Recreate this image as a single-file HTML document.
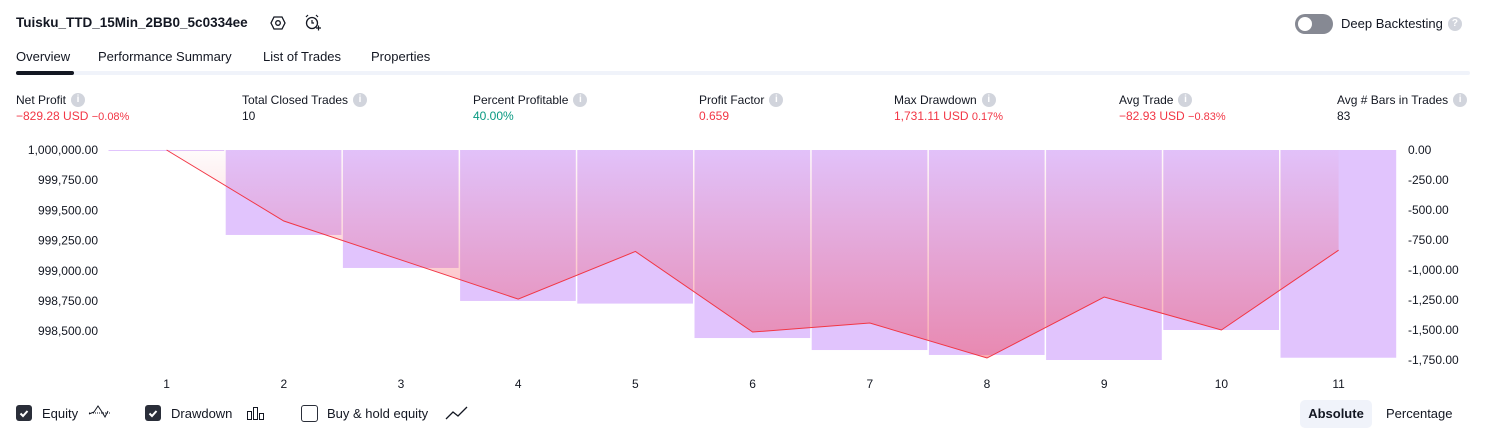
<!DOCTYPE html>
<html><head><meta charset="utf-8"><style>
body{margin:0;width:1486px;height:438px;background:#fff;font-family:"Liberation Sans",sans-serif;color:#131722;position:relative;overflow:hidden}
.a{position:absolute;white-space:nowrap}
.t{font-size:13px}
.info{display:inline-block;width:14px;height:14px;border-radius:50%;background:#d1d4dc;color:#fff;font-size:10px;text-align:center;line-height:14px;font-weight:bold;vertical-align:middle;margin-left:5px;margin-top:-2px}
.red{color:#f23645}.grn{color:#089981}
.cb{position:absolute;width:16px;height:16px;border-radius:3px;top:405px}
</style></head><body>
<div class="a" style="left:16px;top:15px;font-size:13.5px;font-weight:bold">Tuisku_TTD_15Min_2BB0_5c0334ee</div>
<svg class="a" style="left:270px;top:15px" width="16" height="16" viewBox="0 0 16 16"><polygon points="4,2 12,2 15,8 12,14 4,14 1,8" fill="none" stroke="#131722" stroke-width="1.3"/><circle cx="8" cy="8" r="2.3" fill="none" stroke="#131722" stroke-width="1.3"/></svg>
<svg class="a" style="left:304px;top:14px" width="18" height="18" viewBox="0 0 18 18"><circle cx="8" cy="9" r="5.5" fill="none" stroke="#131722" stroke-width="1.3"/><path d="M8 6v3h2M2 3l2-2M14 3l-2-2M12 14h5M14.5 11.5v5" fill="none" stroke="#131722" stroke-width="1.2"/></svg>
<div class="a" style="left:1295px;top:14px;width:38px;height:20px;border-radius:10px;background:#868993"><div style="position:absolute;left:3px;top:3px;width:14px;height:14px;border-radius:50%;background:#fff"></div></div>
<div class="a t" style="left:1341px;top:16px">Deep Backtesting<span class="info">?</span></div>
<div class="a t" style="left:16px;top:49px">Overview</div>
<div class="a t" style="left:98px;top:49px">Performance Summary</div>
<div class="a t" style="left:263px;top:49px">List of Trades</div>
<div class="a t" style="left:371px;top:49px">Properties</div>
<div class="a" style="left:16px;top:71px;width:1454px;height:4px;background:#f0f3fa;border-radius:2px"></div>
<div class="a" style="left:16px;top:71px;width:58px;height:4px;background:#131722;border-radius:2px"></div>

<div class="a" style="left:16px;top:93px;font-size:12px">Net Profit<span class="info">i</span><div class="red" style="margin-top:2px">−829.28 USD <span style="font-size:11px">−0.08%</span></div></div>
<div class="a" style="left:242px;top:93px;font-size:12px">Total Closed Trades<span class="info">i</span><div style="margin-top:2px">10</div></div>
<div class="a" style="left:473px;top:93px;font-size:12px">Percent Profitable<span class="info">i</span><div class="grn" style="margin-top:2px">40.00%</div></div>
<div class="a" style="left:699px;top:93px;font-size:12px">Profit Factor<span class="info">i</span><div class="red" style="margin-top:2px">0.659</div></div>
<div class="a" style="left:894px;top:93px;font-size:12px">Max Drawdown<span class="info">i</span><div class="red" style="margin-top:2px">1,731.11 USD <span style="font-size:11px">0.17%</span></div></div>
<div class="a" style="left:1119px;top:93px;font-size:12px">Avg Trade<span class="info">i</span><div class="red" style="margin-top:2px">−82.93 USD <span style="font-size:11px">−0.83%</span></div></div>
<div class="a" style="left:1337px;top:93px;font-size:12px">Avg # Bars in Trades<span class="info">i</span><div style="margin-top:2px">83</div></div>

<svg id="chart" class="a" style="left:0;top:0" width="1486" height="395"></svg>

<div class="cb" style="left:16px;background:#2a2e39"><svg width="16" height="16"><path d="M4.5 8.5l2.5 2.5 4.5-5" stroke="#fff" stroke-width="2" fill="none"/></svg></div>
<div class="a t" style="left:42px;top:406px">Equity</div>
<svg class="a" style="left:88px;top:404px" width="24" height="16"><path d="M1 10l5-2 4-6 4 6 3 5 3-6" fill="none" stroke="#131722" stroke-width="1"/><path d="M1 9h22" stroke="#131722" stroke-dasharray="1 1"/></svg>
<div class="cb" style="left:145px;background:#2a2e39"><svg width="16" height="16"><path d="M4.5 8.5l2.5 2.5 4.5-5" stroke="#fff" stroke-width="2" fill="none"/></svg></div>
<div class="a t" style="left:171px;top:406px">Drawdown</div>
<svg class="a" style="left:246px;top:405px" width="20" height="16"><rect x="1.5" y="6.5" width="4" height="8" fill="none" stroke="#131722"/><rect x="7.5" y="2.5" width="4" height="12" fill="none" stroke="#131722"/><rect x="13.5" y="8.5" width="4" height="6" fill="none" stroke="#131722"/></svg>
<div class="cb" style="left:301px;border:1px solid #2a2e39;width:15px;height:15px"></div>
<div class="a t" style="left:327px;top:406px">Buy &amp; hold equity</div>
<svg class="a" style="left:445px;top:405px" width="24" height="16"><path d="M1 14l7-7 5 4 9-9" fill="none" stroke="#131722" stroke-width="1.3"/></svg>
<div class="a t" style="left:1300px;top:400px;width:72px;height:28px;line-height:28px;text-align:center;background:#f0f3fa;border-radius:5px;font-weight:bold">Absolute</div>
<div class="a t" style="left:1386px;top:406px">Percentage</div>

<script>
const categories=['1','2','3','4','5','6','7','8','9','10','11'];
const equity=[1000000,999412,999090,998766,999160,998493,998568,998278,998783,998510,999170.72];
const drawdown=[0,-708,-983,-1258,-1280,-1567,-1667,-1708,-1750,-1500,-1731.11];
const leftTicks=[1000000,999750,999500,999250,999000,998750,998500];
const rightTicks=[0,-250,-500,-750,-1000,-1250,-1500,-1750];
const NS='http://www.w3.org/2000/svg';
const svg=document.getElementById('chart');
const x0=108,step=117.2;
const xc=i=>x0+step*(i+0.5);
const yL=v=>150+(1000000-v)/250*30.2;
const yR=v=>150+(-v)/250*30;
function el(t,a){const e=document.createElementNS(NS,t);for(const k in a)e.setAttribute(k,a[k]);svg.appendChild(e);return e;}
const defs=el('defs',{});
defs.innerHTML='<linearGradient id="g" gradientUnits="userSpaceOnUse" x1="0" y1="150" x2="0" y2="360"><stop offset="0" stop-color="#f23645" stop-opacity="0.02"/><stop offset="1" stop-color="#f23645" stop-opacity="0.42"/></linearGradient>';
drawdown.forEach((v,i)=>{
  const y=yR(v);
  const r=el('rect',{x:x0+step*i+0.5,y:150,width:step-1.5,height:Math.max(1,y-150),fill:'#e1c4fd'});
  
  
});
let d='M'+xc(0)+' 150';
equity.forEach((v,i)=>{d+=' L'+xc(i)+' '+yL(v);});
const area=el('path',{d:d+' L'+xc(equity.length-1)+' 150 Z',fill:'url(#g)'});


const line=el('polyline',{points:equity.map((v,i)=>xc(i)+','+yL(v)).join(' '),fill:'none',stroke:'#f23645','stroke-width':1});


const fmt=v=>v.toLocaleString('en-US',{minimumFractionDigits:2,maximumFractionDigits:2});
leftTicks.forEach(v=>{
  const t=el('text',{x:98,y:yL(v)+4,'text-anchor':'end','font-size':12,fill:'#131722'});
  t.textContent=fmt(v);
  
  
});
rightTicks.forEach(v=>{
  const t=el('text',{x:1408,y:yR(v)+4,'font-size':12,fill:'#131722'});
  t.textContent=fmt(v);
  
  
});
categories.forEach((c,i)=>{
  const t=el('text',{x:xc(i),y:388,'text-anchor':'middle','font-size':12,fill:'#131722'});
  t.textContent=c;
  
  
});
</script>
</body></html>
